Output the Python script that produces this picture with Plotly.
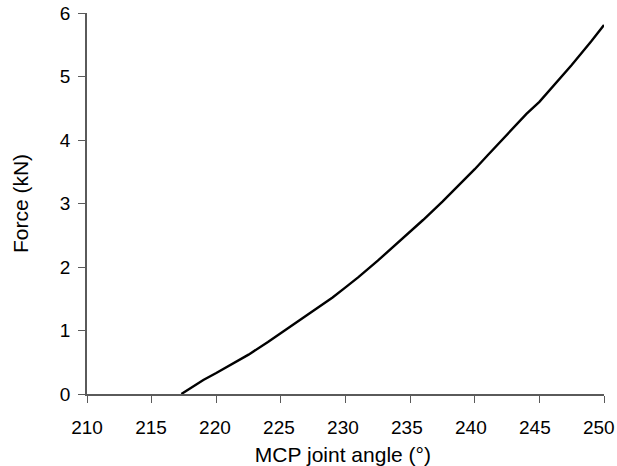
import plotly.graph_objects as go

angle = [217.3, 218.0, 219.0, 220.0, 221.0, 222.5, 224.0, 225.0, 226.0, 227.5, 229.0, 230.0,
         231.0, 232.5, 234.0, 235.0, 236.0, 237.5, 239.0, 240.0, 241.0, 242.5, 244.0, 245.0,
         246.0, 247.5, 249.0, 250.0]
force = [0.0, 0.09, 0.22, 0.33, 0.45, 0.62, 0.82, 0.96, 1.09, 1.30, 1.52, 1.68,
         1.84, 2.10, 2.37, 2.56, 2.74, 3.03, 3.33, 3.54, 3.76, 4.09, 4.41, 4.60,
         4.83, 5.18, 5.55, 5.81]

x_ticks = [210, 215, 220, 225, 230, 235, 240, 245, 250]
y_ticks = [0, 1, 2, 3, 4, 5, 6]
x_range = [210, 250]
y_range = [0, 6]

FONT = "Liberation Sans, Arial"
AXC = "#5a5a5a"

fig = go.Figure()
# empty helper trace so the tick-label axis (x2) is rendered; draws nothing
fig.add_trace(go.Scatter(x=x_range, y=y_range, xaxis="x2", yaxis="y", mode="none",
                         hoverinfo="skip", showlegend=False))
fig.add_trace(go.Scatter(x=angle, y=force, mode="lines",
                         line=dict(color="black", width=2.4), showlegend=False))

fig.update_layout(
    width=617, height=466,
    margin=dict(l=87, r=13, t=13, b=72),
    plot_bgcolor="rgba(0,0,0,0)", paper_bgcolor="white",
    font=dict(family=FONT, size=19, color="black"),
    xaxis=dict(range=x_range, tickvals=x_ticks, showticklabels=False,
               showgrid=False, zeroline=False, showline=True, linecolor=AXC,
               linewidth=1.6, ticks="outside", ticklen=7, tickwidth=1.3,
               tickcolor=AXC, automargin=False, domain=[0, 1]),
    # label axis: the tick labels in the source drift slightly left of the tick marks
    xaxis2=dict(range=x_range, tickvals=x_ticks, anchor="y", domain=[0, 0.99],
                showgrid=False, zeroline=False, showline=False, ticks="",
                automargin=False, ticklabelstandoff=20,
                tickfont=dict(family=FONT, size=19, color="black"),
                title=dict(text="MCP joint angle (°)", standoff=10,
                           font=dict(family=FONT, size=21))),
    yaxis=dict(range=y_range, tickvals=y_ticks, showgrid=False, zeroline=False,
               showline=True, linecolor=AXC, linewidth=1.6, ticks="outside",
               ticklen=7, tickwidth=1.3, tickcolor=AXC, automargin=False,
               ticklabelstandoff=4,
               tickfont=dict(family=FONT, size=19, color="black"),
               title=dict(text="Force (kN)", standoff=25,
                          font=dict(family=FONT, size=21))),
)

fig.write_html("out.html", config={"displayModeBar": False},
               post_script="document.body.style.margin='0px';")
